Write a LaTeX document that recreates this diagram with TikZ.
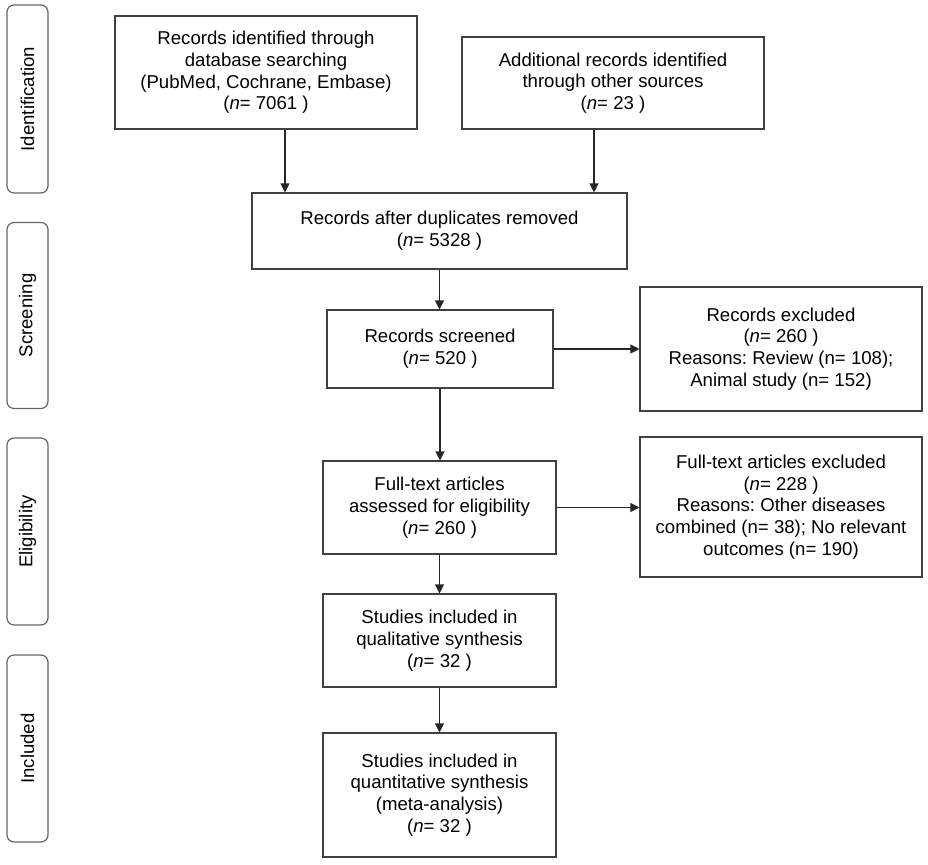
\documentclass[tikz,border=0pt]{standalone}
\usepackage{fontspec}
\setmainfont{Liberation Sans}
\usetikzlibrary{arrows.meta,calc}
\frenchspacing
\begin{document}
\begin{tikzpicture}[x=1pt,y=-1pt,
  box/.style={draw=black!75,line width=1.1pt,align=center,inner sep=0pt,
    font=\fontsize{18.6}{21.7}\selectfont,text=black},
  side/.style={draw=black!60,line width=1.2pt,rounded corners=7pt,inner sep=0pt,
    minimum width=41pt},
  sidetxt/.style={rotate=90,font=\fontsize{18.6}{21}\selectfont},
  arr/.style={draw=black!85,line width=1.1pt,-{Triangle[length=9pt,width=9pt]}}]
\useasboundingbox (0,0) rectangle (928,864);
% side labels
\node[side,minimum height=188pt] (sid) at (27.5,99) {};
\node[sidetxt] at (sid.center) {Identification};
\node[side,minimum height=186pt] (ssc) at (27.5,315.5) {};
\node[sidetxt] at (ssc.center) {Screening};
\node[side,minimum height=187pt] (sel) at (27.5,531.5) {};
\node[sidetxt] at (sel.center) {Eligibility};
\node[side,minimum height=187pt] (sin) at (27.5,748.5) {};
\node[sidetxt] at (sin.center) {Included};
% boxes
\node[box,minimum width=302pt,minimum height=113pt] (db) at (266,72.5)
  {Records identified through\\database searching\\(PubMed, Cochrane, Embase)\\(\textit{n}= 7061 )};
\node[box,minimum width=302pt,minimum height=92pt] (add) at (613,83)
  {Additional records identified\\through other sources\\(\textit{n}= 23 )};
\node[box,minimum width=375pt,minimum height=76pt] (dup) at (439.5,231)
  {Records after duplicates removed\\(\textit{n}= 5328 )};
\node[box,minimum width=226pt,minimum height=78pt] (scrn) at (440,349)
  {Records screened\\(\textit{n}= 520 )};
\node[box,minimum width=282pt,minimum height=124pt] (exc) at (781,349)
  {Records excluded\\(\textit{n}= 260 )\\Reasons: Review (n= 108);\\Animal study (n= 152)};
\node[box,minimum width=233pt,minimum height=93pt] (ft) at (439.5,507.5)
  {Full-text articles\\assessed for eligibility\\(\textit{n}= 260 )};
\node[box,minimum width=282pt,minimum height=140pt] (ftex) at (781,507)
  {Full-text articles excluded\\(\textit{n}= 228 )\\Reasons: Other diseases\\combined (n= 38); No relevant\\outcomes (n= 190)};
\node[box,minimum width=233pt,minimum height=93pt] (qual) at (439.5,640.5)
  {Studies included in\\qualitative synthesis\\(\textit{n}= 32 )};
\node[box,minimum width=233pt,minimum height=124pt] (quant) at (439.5,795)
  {Studies included in\\quantitative synthesis\\(meta-analysis)\\(\textit{n}= 32 )};
% arrows
\draw[arr] ([xshift=19pt]db.south) -- ([xshift=19pt]db.south |- dup.north);
\draw[arr] ([xshift=-19pt]add.south) -- ([xshift=-19pt]add.south |- dup.north);
\draw[arr] (dup.south) -- (dup.south |- scrn.north);
\draw[arr] (scrn.east) -- (scrn.east -| exc.west);
\draw[arr] (scrn.south) -- (scrn.south |- ft.north);
\draw[arr] (ft.east) -- (ft.east -| ftex.west);
\draw[arr] (ft.south) -- (ft.south |- qual.north);
\draw[arr] (qual.south) -- (qual.south |- quant.north);
\end{tikzpicture}
\end{document}
